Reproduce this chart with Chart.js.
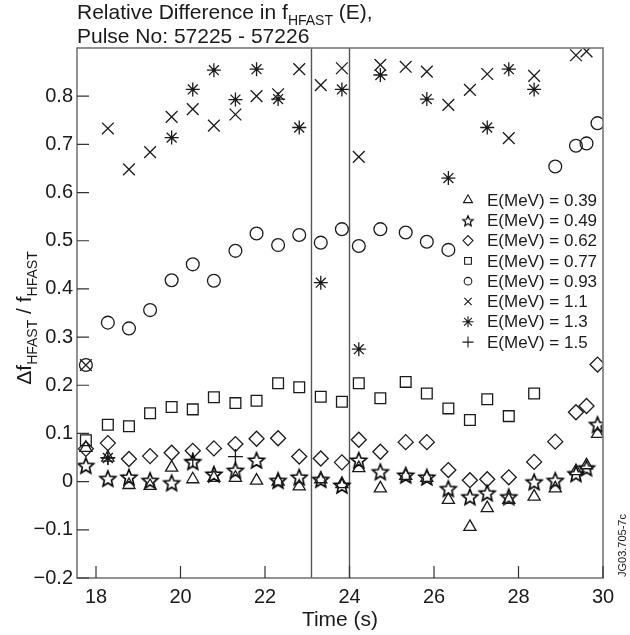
<!DOCTYPE html>
<html>
<head>
<meta charset="utf-8">
<script src="https://cdn.jsdelivr.net/npm/chart.js@4.4.1/dist/chart.umd.min.js"></script>
<style>
body{margin:0;background:#fff}
canvas{display:block}
</style>
</head>
<body>
<canvas id="myChart" width="630" height="635"></canvas>
<script>
// sample times (s)
var times = [17.76,18.28,18.78,19.28,19.79,20.29,20.79,21.30,21.80,22.31,22.81,23.32,23.82,
             24.22,24.73,25.33,25.83,26.34,26.85,27.26,27.77,28.37,28.87,29.36,29.61,29.87];

var e039 = [0.07,0.05,-0.007,-0.009,0.029,0.005,0.008,0.008,0.002,0.0,-0.01,0.005,-0.005,
            0.028,-0.014,0.012,0.008,-0.038,-0.094,-0.055,-0.038,-0.031,-0.014,0.022,0.034,0.099];
var e049 = [0.034,0.007,0.010,0.003,-0.002,0.042,0.016,0.024,0.045,0.003,0.010,0.005,-0.007,
            0.045,0.021,0.014,0.010,-0.014,-0.031,-0.023,-0.031,0.0,0.003,0.017,0.029,0.119];
var e062 = [0.068,0.080,0.047,0.053,0.060,0.064,0.069,0.078,0.089,0.090,0.052,0.048,0.040,
            0.087,0.062,0.082,0.082,0.024,0.003,0.005,0.009,0.041,0.083,0.144,0.157,0.243];
var e077 = [0.086,0.118,0.115,0.142,0.155,0.150,0.175,0.163,0.168,0.204,0.196,0.176,0.166,
            0.204,0.173,0.207,0.183,0.152,0.128,0.171,0.136,0.183,null,null,null,null];
var e093 = [0.242,0.33,0.318,0.356,0.418,0.451,0.417,0.479,0.515,0.491,0.512,0.496,0.524,
            0.489,0.524,0.517,0.498,0.481,null,null,null,null,0.654,0.697,0.702,0.744];
var e110 = [0.242,0.733,0.648,0.684,0.757,0.773,0.739,0.762,0.800,0.804,0.856,0.823,0.858,
            0.674,0.865,0.861,0.851,0.782,0.813,0.846,0.713,0.842,null,0.885,0.893,null];
var e130 = [null,0.049,null,null,0.714,0.814,0.854,0.793,0.856,0.794,0.735,0.413,0.814,
            0.275,0.844,null,0.794,0.63,null,0.735,0.856,0.814,null,null,null,null];
var e150 = [null,0.05,null,null,null,0.045,null,0.052,null,null,null,null,null,
            null,null,null,null,null,null,null,null,null,null,null,null,null];

var seriesLabels = ['E(MeV) = 0.39','E(MeV) = 0.49','E(MeV) = 0.62','E(MeV) = 0.77',
                    'E(MeV) = 0.93','E(MeV) = 1.1','E(MeV) = 1.3','E(MeV) = 1.5'];
var xTicks = [18,20,22,24,26,28,30];
var yTicks = [-0.2,-0.1,0,0.1,0.2,0.3,0.4,0.5,0.6,0.7,0.8];
var pulseLines = [23.1, 24.0];

var ink = '#1a1a1a';
var fontFam = '"Liberation Sans", Arial, Helvetica, sans-serif';

function starImage(r, lw) {
    var c = document.createElement('canvas');
    var s = Math.ceil(2 * r + 2 * lw + 2);
    c.width = s; c.height = s;
    var g = c.getContext('2d');
    g.strokeStyle = '#000'; g.lineWidth = lw; g.lineJoin = 'miter';
    g.beginPath();
    for (var i = 0; i < 10; i++) {
        var a = -Math.PI / 2 + i * Math.PI / 5;
        var rr = i % 2 ? r * 0.45 : r;
        var px = s / 2 + rr * Math.cos(a), py = s / 2 + 1 + rr * Math.sin(a);
        if (i) g.lineTo(px, py); else g.moveTo(px, py);
    }
    g.closePath(); g.stroke();
    return c;
}

var bigStar = starImage(8.3, 1.6);
var smallStar = starImage(5.5, 1.2);

var styles = ['triangle', bigStar, 'rectRot', 'rect', 'circle', 'crossRot', 'star', 'cross'];
var radii = [7, 8, 7.5, 7.6, 6.4, 8.3, 7, 7.5];
var legendStyles = ['triangle', smallStar, 'rectRot', 'rect', 'circle', 'crossRot', 'star', 'cross'];
var legendRadii = [5.2, 5.5, 5, 4.8, 3.8, 5.2, 5.5, 5.5];
var seriesValues = [e039, e049, e062, e077, e093, e110, e130, e150];

function toPoints(vals) {
    var pts = [];
    for (var i = 0; i < times.length; i++) {
        if (vals[i] !== null) pts.push({x: times[i], y: vals[i]});
    }
    return pts;
}

var datasets = [];
for (var k = 0; k < seriesValues.length; k++) {
    datasets.push({
        label: seriesLabels[k],
        data: toPoints(seriesValues[k]),
        showLine: false,
        pointStyle: styles[k],
        pointRadius: radii[k],
        pointHoverRadius: radii[k],
        pointBorderWidth: 1.3,
        borderColor: ink,
        backgroundColor: 'rgba(0,0,0,0)'
    });
}
// dark centre dot of the asterisk markers
datasets.push({
    label: 'e130 dot',
    data: toPoints(e130),
    showLine: false,
    pointStyle: 'circle',
    pointRadius: 1.8,
    pointBorderWidth: 0,
    backgroundColor: ink
});
pulseLines.forEach(function (t) {
    datasets.push({
        label: 'pulse',
        data: [{x: t, y: -0.2}, {x: t, y: 0.9}],
        showLine: true,
        borderColor: '#555',
        borderWidth: 1.4,
        pointRadius: 0
    });
});

function drawParts(ctx, parts, x, y, size, subSize) {
    var cx = x;
    parts.forEach(function (p) {
        if (p.sub) {
            ctx.font = subSize + 'px ' + fontFam;
            ctx.fillText(p.t, cx, y + size * 0.28);
        } else {
            ctx.font = size + 'px ' + fontFam;
            ctx.fillText(p.t, cx, y);
        }
        cx += ctx.measureText(p.t).width;
    });
    return cx - x;
}
function partsWidth(ctx, parts, size, subSize) {
    var w = 0;
    parts.forEach(function (p) {
        ctx.font = (p.sub ? subSize : size) + 'px ' + fontFam;
        w += ctx.measureText(p.t).width;
    });
    return w;
}

var decor = {
    id: 'decor',
    afterDraw: function (chart) {
        var ctx = chart.ctx, a = chart.chartArea;
        var xs = chart.scales.x, ys = chart.scales.y;
        ctx.save();
        // frame
        ctx.strokeStyle = '#777';
        ctx.lineWidth = 1.6;
        ctx.strokeRect(a.left, a.top, a.right - a.left, a.bottom - a.top);
        // inward ticks
        ctx.strokeStyle = '#333';
        ctx.lineWidth = 1.2;
        ctx.beginPath();
        xTicks.forEach(function (v) {
            var px = xs.getPixelForValue(v);
            ctx.moveTo(px, a.bottom); ctx.lineTo(px, a.bottom - 12);
        });
        yTicks.forEach(function (v) {
            var py = ys.getPixelForValue(v);
            ctx.moveTo(a.left, py); ctx.lineTo(a.left + 12, py);
        });
        ctx.stroke();

        // title
        ctx.fillStyle = ink;
        ctx.textAlign = 'left';
        ctx.textBaseline = 'alphabetic';
        drawParts(ctx, [{t: 'Relative Difference in f'}, {t: 'HFAST', sub: true}, {t: ' (E),'}], 77, 19, 21, 14);
        drawParts(ctx, [{t: 'Pulse No: 57225 - 57226'}], 77, 43, 21, 14);

        // y axis title
        var yParts = [{t: '\u0394f'}, {t: 'HFAST', sub: true}, {t: ' / f'}, {t: 'HFAST', sub: true}];
        var w = partsWidth(ctx, yParts, 21, 14);
        ctx.save();
        ctx.translate(31, (a.top + a.bottom) / 2 + 5);
        ctx.rotate(-Math.PI / 2);
        drawParts(ctx, yParts, -w / 2, 0, 21, 14);
        ctx.restore();

        // figure id
        ctx.save();
        ctx.translate(626, 577);
        ctx.rotate(-Math.PI / 2);
        ctx.font = '11px ' + fontFam;
        ctx.fillText('JG03.705-7c', 0, 0);
        ctx.restore();

        // legend
        ctx.textBaseline = 'middle';
        for (var i = 0; i < seriesLabels.length; i++) {
            var ly = 200 + i * 20.3;
            ctx.strokeStyle = ink;
            ctx.fillStyle = 'rgba(0,0,0,0)';
            ctx.lineWidth = 1.1;
            Chart.helpers.drawPoint(ctx, {pointStyle: legendStyles[i], radius: legendRadii[i], borderWidth: 1.1, rotation: 0}, 468, ly);
            ctx.fillStyle = ink;
            ctx.font = '17px ' + fontFam;
            ctx.fillText(seriesLabels[i], 487, ly + 1);
        }
        ctx.restore();
    }
};

var ctx = document.getElementById('myChart').getContext('2d');
var myChart = new Chart(ctx, {
    type: 'scatter',
    data: {datasets: datasets},
    options: {
        responsive: false,
        animation: false,
        devicePixelRatio: 1,
        layout: {padding: {top: 48, right: 27, left: 0, bottom: 0}},
        plugins: {legend: {display: false}, tooltip: {enabled: false}, title: {display: false}},
        scales: {
            x: {
                type: 'linear', min: 17.55, max: 30,
                grid: {display: false, drawTicks: false},
                border: {display: false},
                afterBuildTicks: function (s) { s.ticks = xTicks.map(function (v) { return {value: v}; }); },
                afterFit: function (s) { s.height = 57; },
                ticks: {font: {size: 20, family: fontFam}, color: ink, padding: 7, maxRotation: 0},
                title: {display: true, text: 'Time (s)', font: {size: 21, family: fontFam}, color: ink, padding: {top: 0, bottom: 2}}
            },
            y: {
                type: 'linear', min: -0.2, max: 0.9,
                grid: {display: false, drawTicks: false},
                border: {display: false},
                afterBuildTicks: function (s) { s.ticks = yTicks.map(function (v) { return {value: v}; }); },
                afterFit: function (s) { s.width = 77; },
                ticks: {
                    font: {size: 20, family: fontFam}, color: ink, padding: 4,
                    callback: function (v) {
                        if (Math.abs(v) < 1e-9) return '0';
                        var s = Math.abs(v).toFixed(1);
                        return v < 0 ? '\u2212' + s : s;
                    }
                }
            }
        }
    },
    plugins: [decor]
});
</script>
</body>
</html>
